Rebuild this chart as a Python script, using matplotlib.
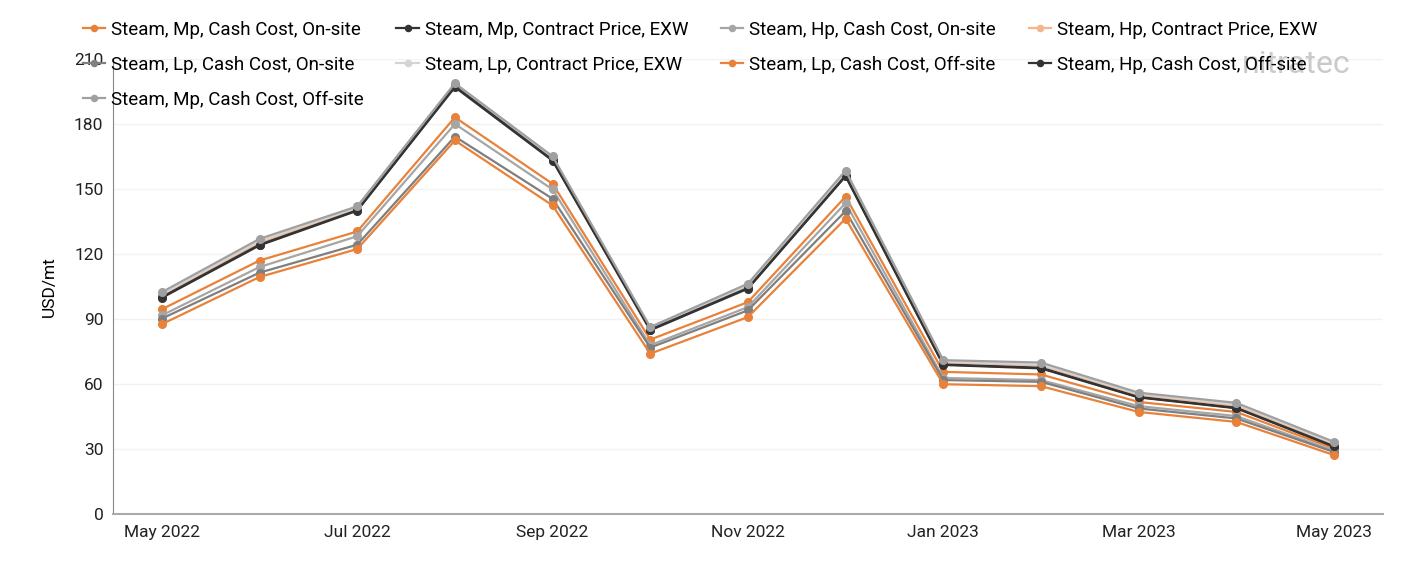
import numpy as np
import matplotlib.pyplot as plt

plt.rcParams['font.family'] = ['Roboto', 'DejaVu Sans']

months = ["May 2022", "Jun 2022", "Jul 2022", "Aug 2022", "Sep 2022", "Oct 2022",
          "Nov 2022", "Dec 2022", "Jan 2023", "Feb 2023", "Mar 2023", "Apr 2023", "May 2023"]

mp_cash_onsite = [94.5, 117, 130.4, 183.1, 152.4, 80.5, 97.8, 146.5, 65.6, 64.4, 51.7, 47.1, 30.2]
mp_contract_exw = [99.8, 124.0, 140.0, 197.0, 163.1, 84.8, 104.0, 155.9, 68.8, 67.2, 53.8, 48.8, 31.1]
hp_cash_onsite = [91.7, 114, 128.2, 180, 149.8, 77.9, 95.5, 143.5, 62.8, 61.8, 49.8, 45.2, 29.2]
hp_contract_exw = [100.6, 125.0, 141.0, 198.0, 164.0, 85.6, 105.0, 157.2, 70.0, 68.6, 55.0, 50.0, 32.2]
lp_cash_onsite = [90.2, 111.4, 124.3, 174.2, 145.5, 76.8, 94, 139.8, 61.8, 61, 48.7, 44.1, 28.6]
lp_contract_exw = [101.4, 126.0, 141.4, 198.2, 164.4, 85.8, 105.4, 157.6, 70.4, 69.0, 55.4, 50.6, 32.6]
lp_cash_offsite = [87.6, 109.4, 122.3, 172.4, 142.4, 74, 90.9, 136.3, 59.9, 59, 47.1, 42.5, 27.2]
hp_cash_offsite = [100.1, 124.3, 140.2, 197.4, 163.4, 85.1, 104.3, 156.2, 69, 67.5, 54, 49, 31.3]
mp_cash_offsite = [102.4, 127, 142, 198.8, 165.1, 86.3, 106.3, 158.5, 71, 69.9, 56, 51.3, 33.3]

series = [
    ("Steam, Mp, Cash Cost, On-site", mp_cash_onsite, "#e8823a"),
    ("Steam, Mp, Contract Price, EXW", mp_contract_exw, "#333333"),
    ("Steam, Hp, Cash Cost, On-site", hp_cash_onsite, "#a6a6a6"),
    ("Steam, Hp, Contract Price, EXW", hp_contract_exw, "#f2b58c"),
    ("Steam, Lp, Cash Cost, On-site", lp_cash_onsite, "#7f7f7f"),
    ("Steam, Lp, Contract Price, EXW", lp_contract_exw, "#d4d4d4"),
    ("Steam, Lp, Cash Cost, Off-site", lp_cash_offsite, "#e8823a"),
    ("Steam, Hp, Cash Cost, Off-site", hp_cash_offsite, "#333333"),
    ("Steam, Mp, Cash Cost, Off-site", mp_cash_offsite, "#a0a0a0"),
]

fig = plt.figure(figsize=(14.01, 5.61), dpi=100)
ax = fig.add_axes([0.0807, 0.0838, 0.9063, 0.811])

x = np.arange(len(months))
handles = []
for label, vals, color in series:
    h, = ax.plot(x, vals, "-o", color=color, lw=1.6, ms=5.5, label=label)
    handles.append(h)

ax.set_xlim(-0.5, len(months) - 0.5)
ax.set_ylim(0, 210)
ax.set_yticks(range(0, 211, 30))
ax.set_xticks(x[::2])
ax.set_xticklabels(months[::2])
ax.tick_params(length=0, labelsize=12.5, colors="#222222")
ax.tick_params(axis="x", pad=8)
ax.tick_params(axis="y", pad=7)
ax.grid(axis="y", color="#f2f2f2", lw=1)
ax.set_axisbelow(True)
for s in ["top", "right"]:
    ax.spines[s].set_visible(False)
ax.spines["left"].set_color("#888888")
ax.spines["bottom"].set_color("#aaaaaa")
ax.spines["bottom"].set_linewidth(1.5)
ax.set_ylabel("USD/mt", fontsize=12.5, labelpad=12)

# watermark
fig.text(0.925, 0.885, "nitratec", fontsize=23, color="#bdbdbd", alpha=0.8,
         ha="center", va="center")

order = [0, 4, 8, 1, 5, 2, 6, 3, 7]
fig.legend([handles[i] for i in order], [series[i][0] for i in order],
           ncol=4, loc="upper left", bbox_to_anchor=(0.047, 0.993),
           frameon=False, fontsize=13.5, handlelength=1.2, handletextpad=0.3,
           columnspacing=1.75, labelspacing=0.9, markerscale=0.8)

fig.savefig("out.png", dpi=100)
